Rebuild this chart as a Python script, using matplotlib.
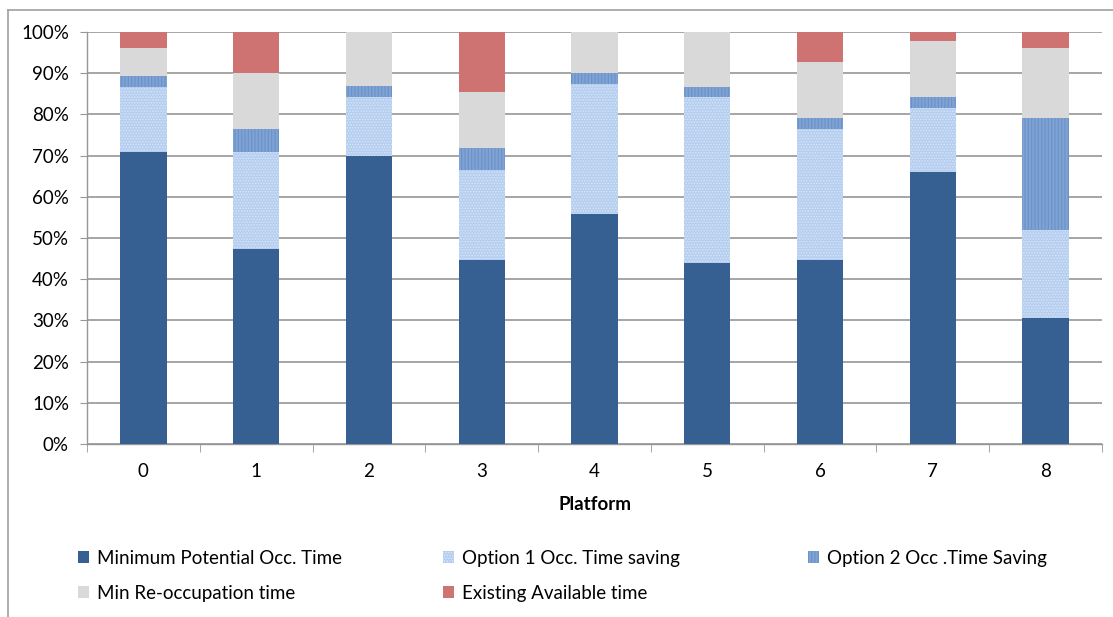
import matplotlib
matplotlib.use("Agg")
import matplotlib.pyplot as plt
from matplotlib.patches import Patch
from matplotlib.lines import Line2D
from matplotlib.ticker import PercentFormatter
import numpy as np

platforms = ["0", "1", "2", "3", "4", "5", "6", "7", "8"]

series_names = [
    "Minimum Potential Occ. Time",
    "Option 1 Occ. Time saving",
    "Option 2 Occ .Time Saving",
    "Min Re-occupation time",
    "Existing Available time",
]

min_potential = [70.9, 47.3, 69.9, 44.7, 55.8, 43.9, 44.7, 65.9, 30.6]
option1_saving = [15.8, 23.6, 14.3, 21.8, 31.5, 40.3, 31.8, 15.7, 21.3]
option2_saving = [2.6, 5.6, 2.7, 5.4, 2.7, 2.5, 2.7, 2.7, 27.3]
min_reoccupation = [6.7, 13.5, 13.1, 13.5, 10.0, 13.3, 13.4, 13.4, 16.8]
existing_available = [4.0, 10.0, 0.0, 14.6, 0.0, 0.0, 7.4, 2.3, 4.0]

plt.rcParams["font.family"] = ["Lato", "DejaVu Sans"]
plt.rcParams["hatch.linewidth"] = 0.8

FS = 13.5

fig = plt.figure(figsize=(11.13, 6.17), dpi=100)
ax = fig.add_axes([87 / 1113, 1 - 444 / 617, (1102 - 87) / 1113, (444 - 32) / 617])

styles = [
    dict(color="#376092", edgecolor="#376092", hatch=None),
    dict(color="#b5cef0", edgecolor="#d6e4f7", hatch="......"),
    dict(color="#7ea3d4", edgecolor="#6a90c6", hatch="|||||"),
    dict(color="#d9d9d9", edgecolor="#d9d9d9", hatch=None),
    dict(color="#cf7372", edgecolor="#cf7372", hatch=None),
]

data = [min_potential, option1_saving, option2_saving, min_reoccupation, existing_available]
x = np.arange(len(platforms))
bottom = np.zeros(len(platforms))
handles = []
for name, vals, st in zip(series_names, data, styles):
    vals = np.array(vals, dtype=float)
    ax.bar(x, vals, width=0.41, bottom=bottom, color=st["color"],
           edgecolor=st["edgecolor"], hatch=st["hatch"], linewidth=0, zorder=3)
    bottom += vals
    handles.append(Patch(facecolor=st["color"], edgecolor=st["edgecolor"],
                         hatch=st["hatch"], linewidth=0))

ax.set_xlim(-0.5, len(platforms) - 0.5)
ax.set_ylim(0, 100)
ax.set_yticks(np.arange(0, 101, 10))
ax.yaxis.set_major_formatter(PercentFormatter(decimals=0))
ax.set_xticks(x)
ax.set_xticklabels(platforms)
ax.set_xticks(np.arange(-0.5, len(platforms), 1), minor=True)

grid_color = "#969696"
ax.yaxis.grid(True, color=grid_color, linewidth=1.2, zorder=0)
ax.set_axisbelow(True)
for side in ["top", "right"]:
    ax.spines[side].set_visible(False)
for side in ["left", "bottom"]:
    ax.spines[side].set_color(grid_color)
    ax.spines[side].set_linewidth(1.0)

ax.tick_params(axis="y", which="major", length=5, color=grid_color, pad=8,
               labelsize=FS, labelcolor="#000000")
ax.tick_params(axis="x", which="major", length=0, pad=14, labelsize=FS)
ax.tick_params(axis="x", which="minor", length=6, color=grid_color)

ax.set_xlabel("Platform", fontsize=FS, fontweight="bold", labelpad=11)

# chart frame
fig.add_artist(Line2D([8 / 1113, 8 / 1113], [0, 1 - 10 / 617],
                      transform=fig.transFigure, color="#a0a0a0", linewidth=1.2))
fig.add_artist(Line2D([8 / 1113, 1], [1 - 10 / 617, 1 - 10 / 617],
                      transform=fig.transFigure, color="#a0a0a0", linewidth=1.2))

# legend laid out as three columns
columns = [([0, 3], 78), ([1, 4], 443), ([2], 808)]
for idx, xpix in columns:
    fig.legend([handles[i] for i in idx], [series_names[i] for i in idx],
               loc="upper left", bbox_to_anchor=(xpix / 1113, 1 - 550 / 617),
               frameon=False, fontsize=FS, handlelength=0.6,
               handleheight=0.6, handletextpad=0.4, labelspacing=0.95,
               borderaxespad=0, borderpad=0)

fig.savefig("out.png", dpi=100)
